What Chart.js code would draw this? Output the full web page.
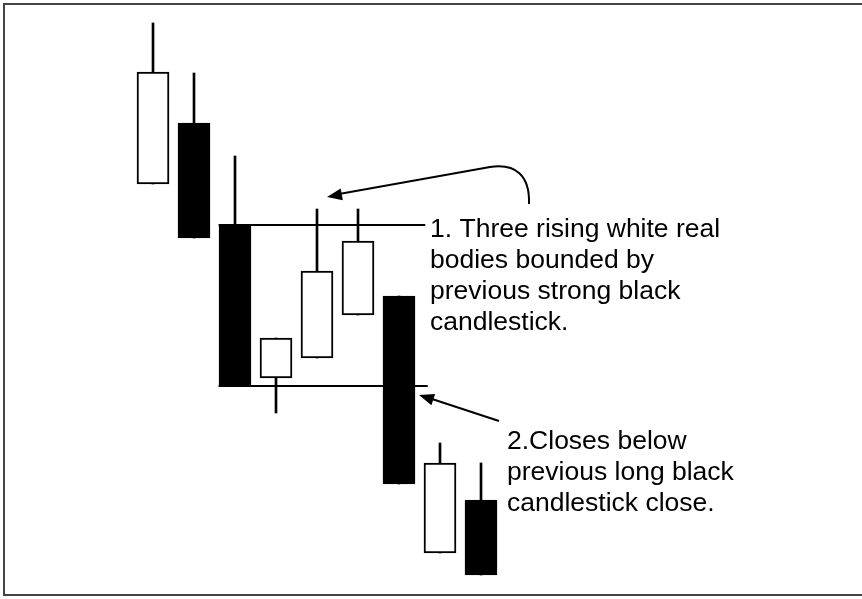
<!DOCTYPE html>
<html>
<head>
<meta charset="utf-8">
<script src="https://cdn.jsdelivr.net/npm/chart.js@4"></script>
<style>
  body { margin: 0; background: #fff; }
  #wrap { position: relative; width: 862px; height: 599px; }
  #frame {
    position: absolute; left: 3px; top: 3px; width: 870px; height: 589px;
    border: 2px solid #444; pointer-events: none;
  }
</style>
</head>
<body>
<div id="wrap">
  <canvas id="myChart"></canvas>
  <div id="frame"></div>
</div>
<script>
// candle data (price units)
const days = [0, 1, 2, 3, 4, 5, 6, 7, 8];
const opens = [39.6, 45.7, 35.5, 20.2, 22.2, 26.5, 28.4, 2.7, 8.0];
const closes = [50.8, 34.2, 19.4, 24.2, 30.9, 33.9, 9.6, 11.7, 0.5];
const highs = [55.7, 50.7, 42.4, 24.2, 37.1, 37.1, 28.4, 13.7, 11.7];
const lows = [39.6, 34.2, 19.4, 16.7, 22.2, 26.5, 9.6, 2.7, 0.5];

// the "bounding" black candle and how far its lines reach
const boundIdx = 2;
const boundFrom = 1.6;
const boundTo = [6.64, 6.7];

const note1 = ['1. Three rising white real', 'bodies bounded by', 'previous strong black', 'candlestick.'];
const note2 = ['2.Closes below', 'previous long black', 'candlestick close.'];

const rising = days.map((d, i) => closes[i] >= opens[i]);

// Arrows + text
const notes = {
    id: 'notes',
    afterDraw(chart) {
        const c = chart.ctx;
        const x = chart.scales.x, y = chart.scales.y;
        c.save();
        c.fillStyle = '#000';
        c.strokeStyle = '#000';
        c.font = '26.5px "Liberation Sans", Arial, sans-serif';
        c.textBaseline = 'alphabetic';
        note1.forEach((t, i) => c.fillText(t, 430, 237 + i * 31));
        note2.forEach((t, i) => c.fillText(t, 507, 449 + i * 31));

        c.lineWidth = 2;
        // curved arrow, pointing at the rising candles' highs
        const tip1x = x.getPixelForValue(days[4]) + 10;
        const tip1y = y.getPixelForValue(highs[4]) - 12;
        c.beginPath();
        c.moveTo(529, 204);
        c.bezierCurveTo(530, 176, 516, 163, 490, 167);
        c.lineTo(tip1x + 12, tip1y - 3);
        c.stroke();
        arrowHead(c, 490, 167, tip1x, tip1y);

        // straight arrow, pointing at the breaking black candle
        const tip2x = x.getPixelForValue(days[6]) + 20;
        const tip2y = y.getPixelForValue(closes[boundIdx]) + 9;
        c.beginPath();
        c.moveTo(499, 421);
        c.lineTo(tip2x + 10, tip2y + 3);
        c.stroke();
        arrowHead(c, 499, 421, tip2x, tip2y);
        c.restore();
    }
};

function arrowHead(c, x0, y0, x1, y1) {
    const a = Math.atan2(y1 - y0, x1 - x0);
    const len = 15, w = 6;
    c.beginPath();
    c.moveTo(x1, y1);
    c.lineTo(x1 - len * Math.cos(a) + w * Math.sin(a), y1 - len * Math.sin(a) - w * Math.cos(a));
    c.lineTo(x1 - len * Math.cos(a) - w * Math.sin(a), y1 - len * Math.sin(a) + w * Math.cos(a));
    c.closePath();
    c.fill();
}

var ctx = document.getElementById('myChart').getContext('2d');

var myChart = new Chart(ctx, {
    type: 'bar',
    data: {
        datasets: [{
            label: 'bodies',
            order: 1,
            grouped: false,
            data: days.map((d, i) => ({ x: d, y: [opens[i], closes[i]] })),
            backgroundColor: rising.map(r => r ? '#fff' : '#000'),
            borderColor: '#000',
            borderWidth: 2,
            borderSkipped: false,
            barThickness: 32
        }, {
            label: 'wicks',
            order: 2,
            grouped: false,
            data: days.map((d, i) => ({ x: d, y: [lows[i], highs[i]] })),
            backgroundColor: '#000',
            borderWidth: 0,
            barThickness: 2
        }, {
            type: 'line',
            label: 'top',
            order: 0,
            data: [{ x: boundFrom, y: opens[boundIdx] }, { x: boundTo[0], y: opens[boundIdx] }],
            borderColor: '#000',
            borderWidth: 2,
            pointRadius: 0
        }, {
            type: 'line',
            label: 'bottom',
            order: 0,
            data: [{ x: boundFrom, y: closes[boundIdx] }, { x: boundTo[1], y: closes[boundIdx] }],
            borderColor: '#000',
            borderWidth: 2,
            pointRadius: 0
        }]
    },
    options: {
        responsive: true,
        maintainAspectRatio: false,
        animation: false,
        layout: { padding: { left: 30, right: 12, top: 20, bottom: 19 } },
        scales: {
            x: { type: 'linear', min: -3, max: 17, offset: false, display: false },
            y: { min: 0, max: 56, display: false }
        },
        plugins: {
            legend: { display: false },
            tooltip: { enabled: false }
        }
    },
    plugins: [notes]
});
</script>
</body>
</html>
